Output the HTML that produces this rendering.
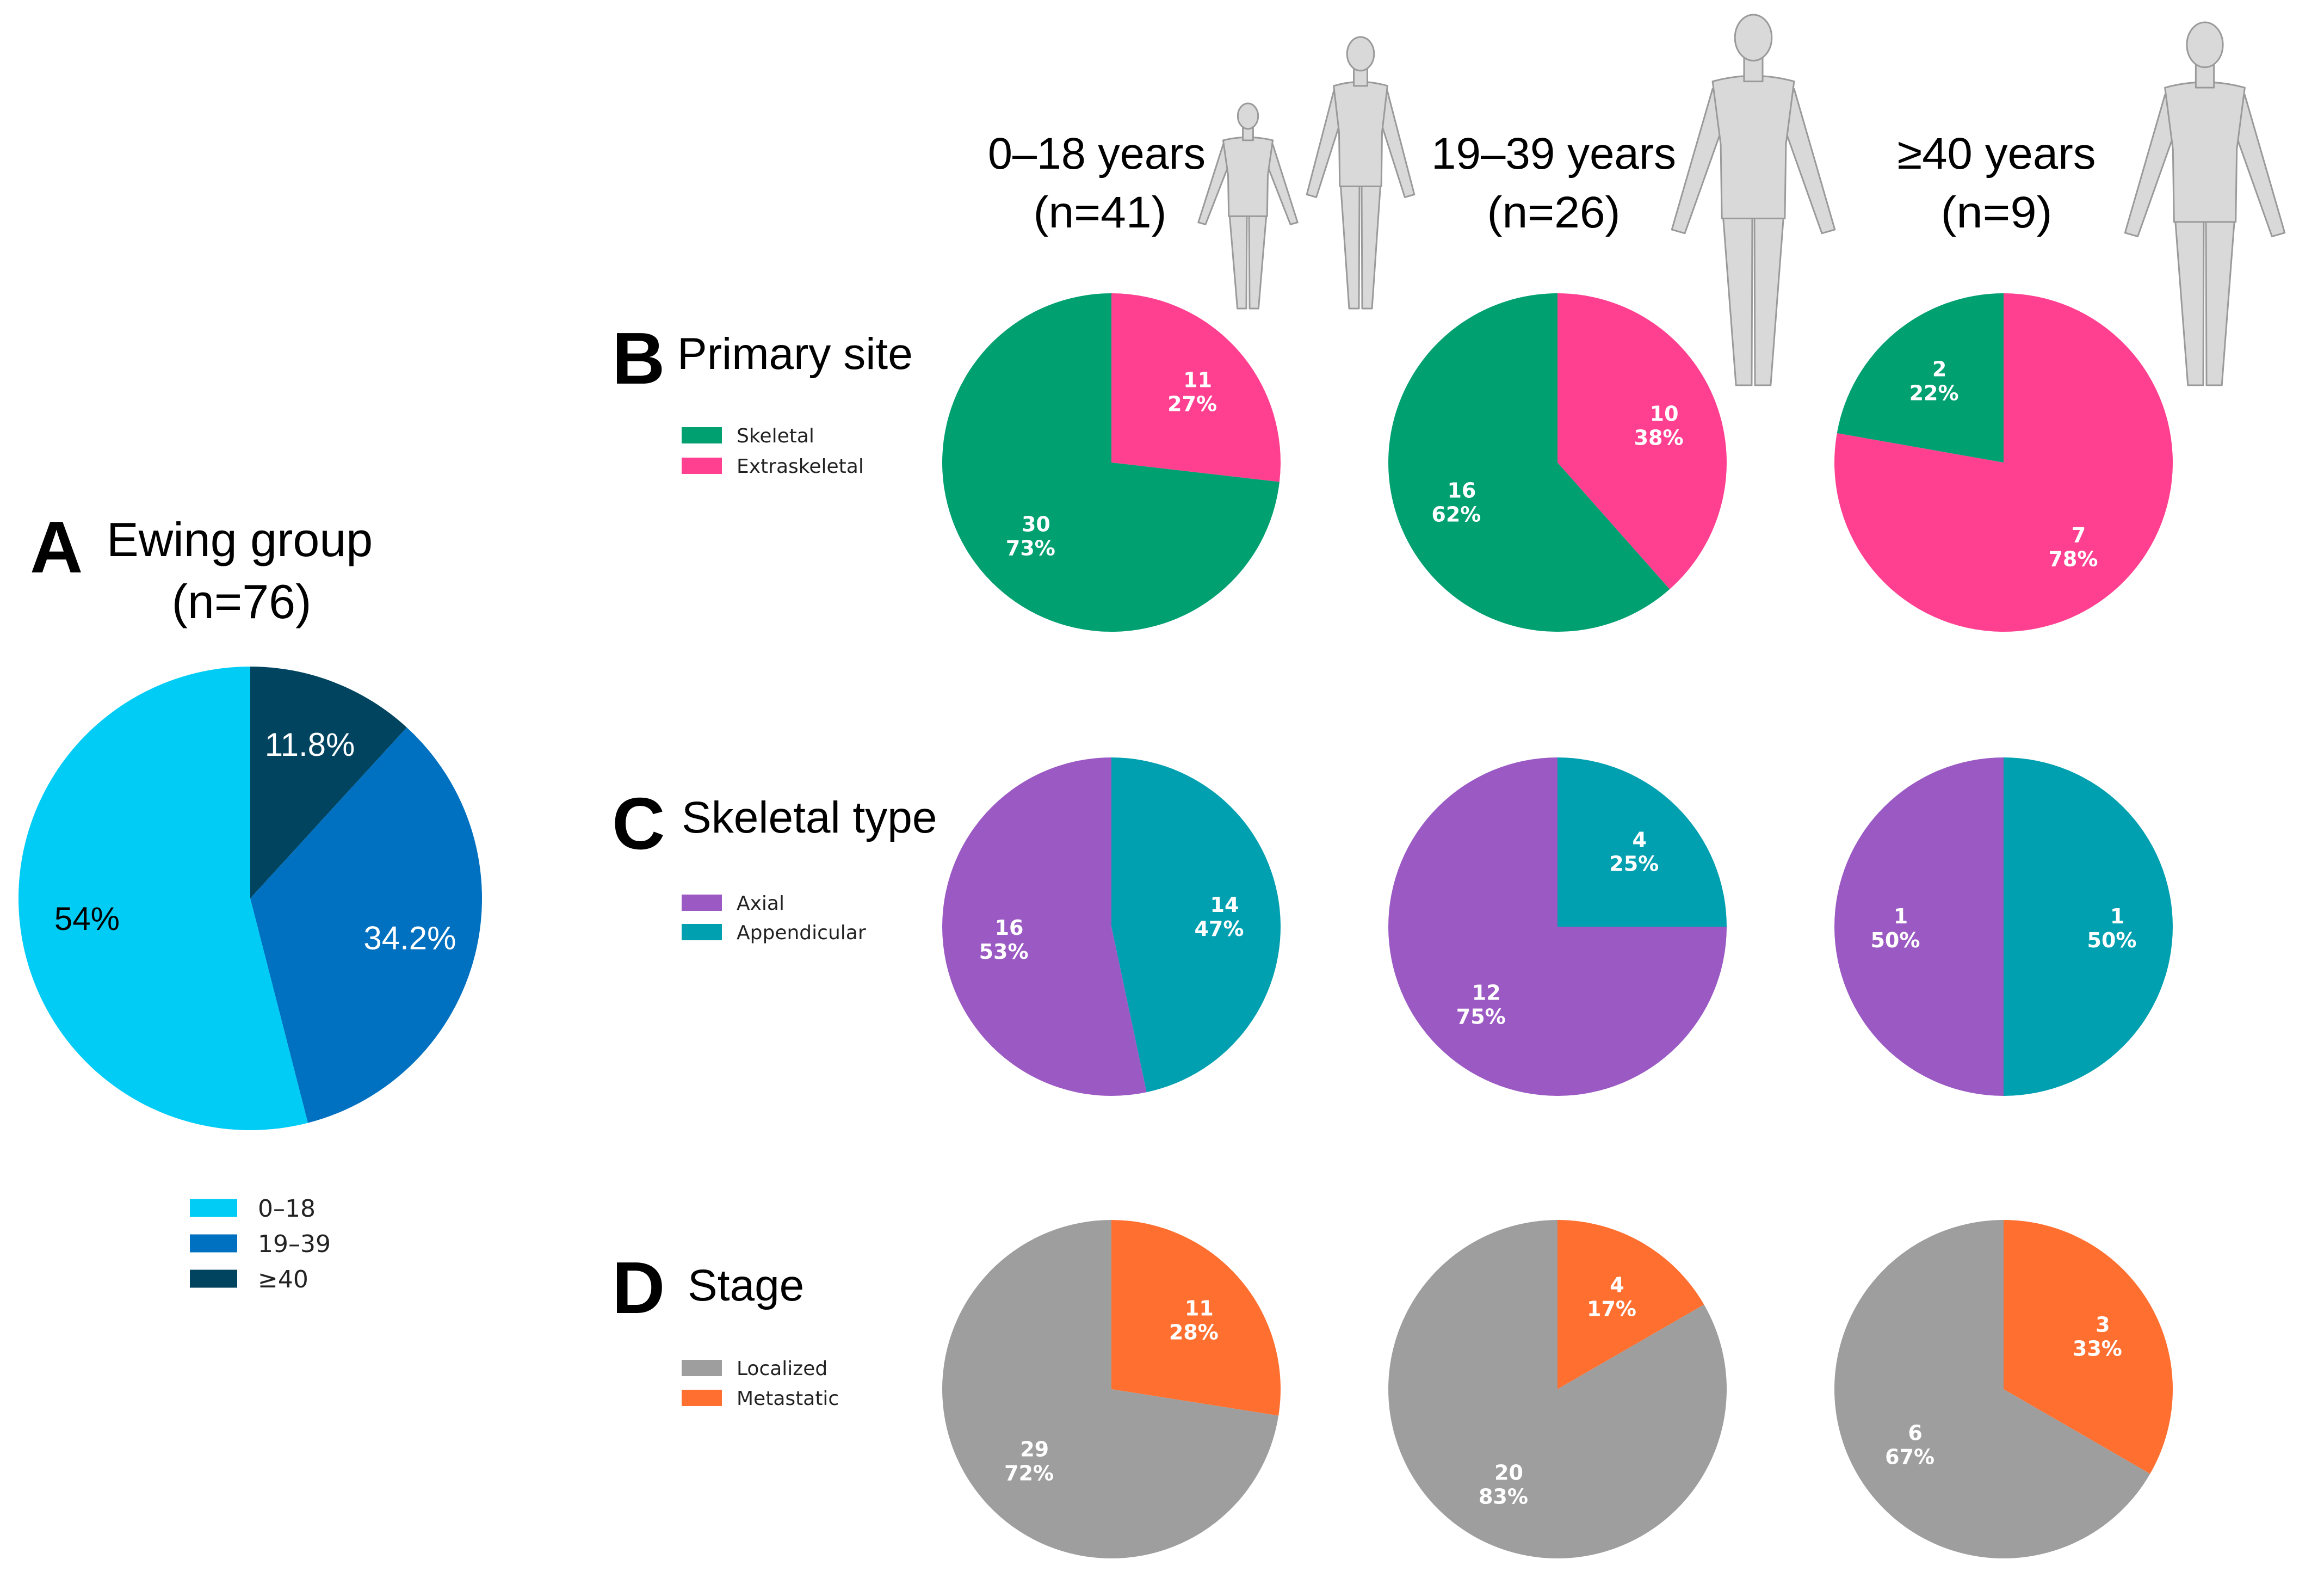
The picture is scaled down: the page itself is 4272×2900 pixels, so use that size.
<!DOCTYPE html>
<html><head><meta charset="utf-8"><style>
html,body{margin:0;padding:0;background:#fff}
svg{display:block}
</style></head><body>
<svg id="fig" width="4272" height="2900" viewBox="0 0 4272 2900" xmlns="http://www.w3.org/2000/svg" font-family="Liberation Sans, DejaVu Sans, sans-serif">
<g id="figures"></g>
<g id="texts">
  <text x="55" y="1052" font-size="135" font-weight="bold">A</text>
  <text x="196" y="1022" font-size="88">Ewing group</text>
  <text x="444" y="1136" font-size="88" text-anchor="middle">(n=76)</text>
  <text x="2016" y="310" font-size="82" text-anchor="middle" textLength="400" lengthAdjust="spacingAndGlyphs">0–18 years</text>
  <text x="2022" y="418" font-size="82" text-anchor="middle" textLength="245" lengthAdjust="spacingAndGlyphs">(n=41)</text>
  <text x="2856" y="310" font-size="82" text-anchor="middle" textLength="450" lengthAdjust="spacingAndGlyphs">19–39 years</text>
  <text x="2856" y="418" font-size="82" text-anchor="middle" textLength="245" lengthAdjust="spacingAndGlyphs">(n=26)</text>
  <text x="3670" y="310" font-size="82" text-anchor="middle" textLength="365" lengthAdjust="spacingAndGlyphs">≥40 years</text>
  <text x="3670" y="418" font-size="82" text-anchor="middle" textLength="205" lengthAdjust="spacingAndGlyphs">(n=9)</text>
  <text x="1125" y="705" font-size="135" font-weight="bold">B</text>
  <text x="1245" y="678" font-size="82">Primary site</text>
  <text x="1125" y="1560" font-size="135" font-weight="bold">C</text>
  <text x="1253" y="1530" font-size="82">Skeletal type</text>
  <text x="1125" y="2413" font-size="135" font-weight="bold">D</text>
  <text x="1264" y="2390" font-size="82">Stage</text>
</g>
<g id="pies"></g>
<g id="legends"></g>
</svg>
<script>
// Panel A data
const aCategories = ['≥40', '19–39', '0–18'];
const aValues = [11.8, 34.2, 54];
const aLabels = ['11.8%', '34.2%', '54%'];
// Panel B: primary site (Extraskeletal first clockwise, then Skeletal)
const ageGroups = ['0–18', '19–39', '≥40'];
const bCategories = ['Extraskeletal', 'Skeletal'];
const bExtra = [11, 10, 7];
const bSkel = [30, 16, 2];
// Panel C: skeletal type
const cCategories = ['Appendicular', 'Axial'];
const cAppend = [14, 4, 1];
const cAxial = [16, 12, 1];
// Panel D: stage
const dCategories = ['Metastatic', 'Localized'];
const dMeta = [11, 4, 3];
const dLocal = [29, 20, 6];

const NS = 'http://www.w3.org/2000/svg';
function mk(tag, attrs, parent) {
  const e = document.createElementNS(NS, tag);
  for (const k in attrs) e.setAttribute(k, attrs[k]);
  parent.appendChild(e);
  return e;
}
function roundHalfEven(x) {
  const f = Math.floor(x), d = x - f;
  if (Math.abs(d - 0.5) < 1e-9) return (f % 2 === 0) ? f : f + 1;
  return Math.round(x);
}
function pt(cx, cy, r, frac) {
  const a = frac * 2 * Math.PI;
  return [cx + r * Math.sin(a), cy - r * Math.cos(a)];
}
function slicePath(cx, cy, r, f0, f1) {
  if (f1 - f0 >= 0.9999) return `M${cx},${cy - r}A${r},${r} 0 1 1 ${cx - 0.01},${cy - r}Z`;
  const [x0, y0] = pt(cx, cy, r, f0), [x1, y1] = pt(cx, cy, r, f1);
  const large = (f1 - f0) > 0.5 ? 1 : 0;
  return `M${cx},${cy}L${x0},${y0}A${r},${r} 0 ${large} 1 ${x1},${y1}Z`;
}
const pies = document.getElementById('pies');

// Panel A
(function () {
  const cx = 460, cy = 1651, r = 426;
  const cols = ['#004460', '#0070C0', '#00CCF5'];
  const tcols = ['#fff', '#fff', '#000'];
  const total = aValues.reduce((s, v) => s + v, 0);
  let acc = 0;
  const g = mk('g', {}, pies);
  
  
  aValues.forEach((v, i) => {
    const f0 = acc / total, f1 = (acc + v) / total;
    const p = mk('path', { d: slicePath(cx, cy, r, f0, f1), fill: cols[i] }, g);
    
    
    const [lx, ly] = pt(cx, cy, r * 0.71, (f0 + f1) / 2);
    const t = mk('text', { x: lx, y: ly + 20, 'font-size': 60, 'text-anchor': 'middle', fill: tcols[i] }, g);
    t.textContent = aLabels[i];
    
    
    acc += v;
  });
})();

const colX = [2043, 2863, 3683];
const rowY = [850, 1703, 2553];
const R = 311;
function drawPie(cx, cy, first, second, c1, c2, name) {
  const g = mk('g', {}, pies);
  
  
  const tot = first + second;
  const parts = [[0, first / tot, c1, first], [first / tot, 1, c2, second]];
  parts.forEach((p, i) => {
    const s = mk('path', { d: slicePath(cx, cy, R, p[0], p[1]), fill: p[2] }, g);
    
    
    const [lx, ly] = pt(cx, cy, R * 0.64, (p[0] + p[1]) / 2);
    const t = mk('text', { x: lx, y: ly - 6, 'font-size': 38, 'font-weight': 'bold', 'text-anchor': 'middle', fill: '#fff', 'font-family': 'DejaVu Sans, sans-serif' }, g);
    
    
    const t1 = mk('tspan', { x: lx + 10 }, t); t1.textContent = String(p[3]);
    const t2 = mk('tspan', { x: lx, dy: 44 }, t); t2.textContent = roundHalfEven(p[3] / tot * 100) + '%';
  });
}
ageGroups.forEach((ag, i) => {
  drawPie(colX[i], rowY[0], bExtra[i], bSkel[i], '#FF4090', '#00A070', 'pie-b-' + i);
  drawPie(colX[i], rowY[1], cAppend[i], cAxial[i], '#00A0B0', '#9B59C3', 'pie-c-' + i);
  drawPie(colX[i], rowY[2], dMeta[i], dLocal[i], '#FF7030', '#9E9E9E', 'pie-d-' + i);
});

// Legends
const legends = document.getElementById('legends');
function legend(x, y0, dy, items, w, h, tx, fs, name) {
  items.forEach((it, i) => {
    const y = y0 + i * dy;
    const r = mk('rect', { x: x, y: y - h / 2, width: w, height: h, fill: it[1] }, legends);
    
    
    const t = mk('text', { x: tx, y: y + fs * 0.36, 'font-size': fs, fill: '#222', 'font-family': 'DejaVu Sans, sans-serif' }, legends);
    t.textContent = it[0];
    
    
  });
}
legend(349, 2220, 65, [['0–18', '#00CCF5'], ['19–39', '#0070C0'], ['≥40', '#004460']], 87, 33, 474, 44, 'legend-a');
legend(1253, 800, 56, [['Skeletal', '#00A070'], ['Extraskeletal', '#FF4090']], 74, 30, 1354, 36, 'legend-b');
legend(1253, 1659, 54, [['Axial', '#9B59C3'], ['Appendicular', '#00A0B0']], 74, 30, 1354, 36, 'legend-c');
legend(1253, 2514, 55, [['Localized', '#9E9E9E'], ['Metastatic', '#FF7030']], 74, 30, 1354, 36, 'legend-d');

// Silhouettes
const figs = document.getElementById('figures');
function person(cx, top, bottom, wk, name) {
  const H = bottom - top;
  const g = mk('g', { fill: '#D9D9D9', stroke: '#9A9A9A', 'stroke-width': 3, 'stroke-linejoin': 'round' }, figs);
  
  
  const hr = 0.062 * H;
  const sw = 0.11 * H * wk;
  const hw = 0.085 * H * wk;
  const armW = 0.035 * H;
  mk('path', { d: `M${cx - sw},${top + 0.2 * H} L${cx - sw - 0.11 * H * wk},${top + 0.58 * H} L${cx - sw - 0.11 * H * wk + armW},${top + 0.59 * H} L${cx - sw + armW},${top + 0.28 * H}Z` }, g);
  mk('path', { d: `M${cx + sw},${top + 0.2 * H} L${cx + sw + 0.11 * H * wk},${top + 0.58 * H} L${cx + sw + 0.11 * H * wk - armW},${top + 0.59 * H} L${cx + sw - armW},${top + 0.28 * H}Z` }, g);
  mk('path', { d: `M${cx - hw},${top + 0.5 * H} L${cx - hw * 0.55},${bottom} L${cx - 3},${bottom} L${cx - 2},${top + 0.55 * H}Z` }, g);
  mk('path', { d: `M${cx + hw},${top + 0.5 * H} L${cx + hw * 0.55},${bottom} L${cx + 3},${bottom} L${cx + 2},${top + 0.55 * H}Z` }, g);
  mk('path', { d: `M${cx - sw},${top + 0.18 * H} Q${cx},${top + 0.15 * H} ${cx + sw},${top + 0.18 * H} L${cx + sw * 0.8},${top + 0.35 * H} L${cx + hw},${top + 0.55 * H} L${cx - hw},${top + 0.55 * H} L${cx - sw * 0.8},${top + 0.35 * H}Z` }, g);
  mk('rect', { x: cx - 0.025 * H, y: top + 0.11 * H, width: 0.05 * H, height: 0.07 * H }, g);
  mk('ellipse', { cx: cx, cy: top + hr, rx: hr * 0.8, ry: hr }, g);
}
person(2294, 190, 567, 1.1, 'child-silhouette');
person(2501, 68, 567, 0.9, 'teen-silhouette');
person(3223, 27, 708, 1.0, 'adult-silhouette');
person(4053, 41, 708, 1.0, 'older-adult-silhouette');
</script>
</body></html>
